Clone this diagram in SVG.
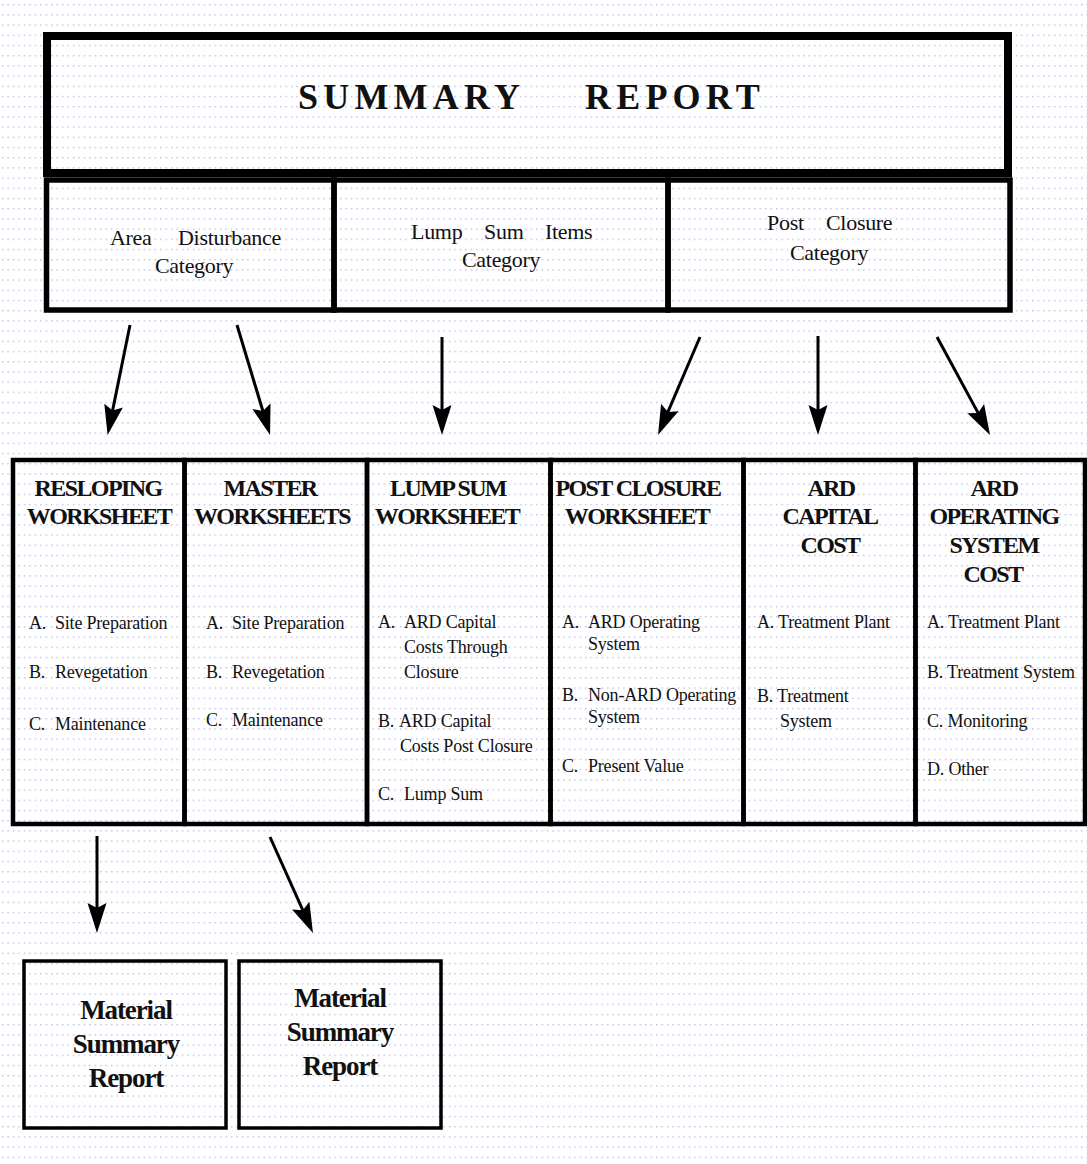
<svg xmlns="http://www.w3.org/2000/svg" width="1087" height="1164" viewBox="0 0 1087 1164">
<style>
.box{fill:none;stroke:#000;stroke-linejoin:miter}
.title{font-family:"Liberation Serif","Times New Roman",serif;font-weight:bold;font-size:36px;letter-spacing:5.2px;fill:#111}
.cat{font-family:"Liberation Serif","Times New Roman",serif;font-size:22px;fill:#111;letter-spacing:-0.3px}
.hd{font-family:"Liberation Serif","Times New Roman",serif;font-weight:bold;font-size:24px;letter-spacing:-1.6px;fill:#111;text-anchor:middle}
.it{font-family:"Liberation Serif","Times New Roman",serif;font-size:18px;fill:#111;letter-spacing:-0.2px}
.mat{font-family:"Liberation Serif","Times New Roman",serif;font-weight:bold;font-size:27px;letter-spacing:-1.1px;fill:#111;text-anchor:middle}
.conn{stroke:#000;stroke-width:3;fill:none;marker-end:url(#arr)}
</style>
<defs>
<pattern id="dots" x="2" y="4" width="5.45" height="10.2" patternUnits="userSpaceOnUse">
<rect x="0" y="0" width="1.4" height="1.4" fill="#bcbcf0"/>
</pattern>
<marker id="arr" markerUnits="userSpaceOnUse" viewBox="-11 -11 32 22" markerWidth="32" markerHeight="22" refX="0" refY="0" orient="auto">
<path d="M20,0 L-10,-9.5 L-5,0 L-10,9.5 Z" fill="#000"/>
</marker>
</defs>
<rect width="1087" height="1164" fill="#fff"/>
<rect width="1087" height="1164" fill="url(#dots)"/>

<g id="summary-report">
<rect class="box" x="47" y="36" width="961" height="137" stroke-width="8"/>
<text class="title" y="109"><tspan x="298">SUMMARY</tspan><tspan x="585">REPORT</tspan></text>
</g>

<g id="cat-area">
<rect class="box" x="46.5" y="180" width="287.5" height="130" stroke-width="5.5"/>
<text class="cat" y="245"><tspan x="110">Area</tspan><tspan x="178">Disturbance</tspan></text>
<text class="cat" x="155" y="273">Category</text>
</g>
<g id="cat-lump">
<rect class="box" x="334" y="180" width="334" height="130" stroke-width="5.5"/>
<text class="cat" y="239"><tspan x="411">Lump</tspan><tspan x="484">Sum</tspan><tspan x="545">Items</tspan></text>
<text class="cat" x="462" y="267">Category</text>
</g>
<g id="cat-post">
<rect class="box" x="668" y="180" width="342" height="130" stroke-width="5.5"/>
<text class="cat" y="230"><tspan x="767">Post</tspan><tspan x="826">Closure</tspan></text>
<text class="cat" x="790" y="260">Category</text>
</g>

<g id="connectors">
<line class="conn" x1="130" y1="325" x2="111.6" y2="415.4"/>
<line class="conn" x1="237" y1="325" x2="264.3" y2="415.8"/>
<line class="conn" x1="442" y1="337" x2="442" y2="415"/>
<line class="conn" x1="700" y1="337" x2="665.9" y2="416.6"/>
<line class="conn" x1="818" y1="336" x2="818" y2="415"/>
<line class="conn" x1="937" y1="337" x2="980.5" y2="417.4"/>
<line class="conn" x1="97" y1="836" x2="97" y2="913"/>
<line class="conn" x1="270" y1="837" x2="304.8" y2="914.7"/>
</g>

<g id="ws-resloping">
<rect class="box" x="13" y="460" width="171.5" height="364" stroke-width="4.5"/>
<text class="hd" x="98" y="496">RESLOPING</text>
<text class="hd" x="99" y="524">WORKSHEET</text>
<text class="it" y="629"><tspan x="29">A.</tspan><tspan x="55">Site Preparation</tspan></text>
<text class="it" y="678"><tspan x="29">B.</tspan><tspan x="55">Revegetation</tspan></text>
<text class="it" y="730"><tspan x="29">C.</tspan><tspan x="55">Maintenance</tspan></text>
</g>
<g id="ws-master">
<rect class="box" x="184.5" y="460" width="182.5" height="364" stroke-width="4.5"/>
<text class="hd" x="270" y="496">MASTER</text>
<text class="hd" x="272" y="524">WORKSHEETS</text>
<text class="it" y="629"><tspan x="206">A.</tspan><tspan x="232">Site Preparation</tspan></text>
<text class="it" y="678"><tspan x="206">B.</tspan><tspan x="232">Revegetation</tspan></text>
<text class="it" y="726"><tspan x="206">C.</tspan><tspan x="232">Maintenance</tspan></text>
</g>
<g id="ws-lumpsum">
<rect class="box" x="367" y="460" width="183.5" height="364" stroke-width="4.5"/>
<text class="hd" x="448" y="496">LUMP SUM</text>
<text class="hd" x="447" y="524">WORKSHEET</text>
<text class="it" y="628"><tspan x="378">A.</tspan><tspan x="404">ARD Capital</tspan></text>
<text class="it" x="404" y="653">Costs Through</text>
<text class="it" x="404" y="678">Closure</text>
<text class="it" y="727"><tspan x="378">B.</tspan><tspan x="399">ARD Capital</tspan></text>
<text class="it" x="400" y="752">Costs Post Closure</text>
<text class="it" y="800"><tspan x="378">C.</tspan><tspan x="404">Lump Sum</tspan></text>
</g>
<g id="ws-postclosure">
<rect class="box" x="550.5" y="460" width="193" height="364" stroke-width="4.5"/>
<text class="hd" x="638" y="496">POST CLOSURE</text>
<text class="hd" x="637" y="524">WORKSHEET</text>
<text class="it" y="628"><tspan x="562">A.</tspan><tspan x="588">ARD Operating</tspan></text>
<text class="it" x="588" y="650">System</text>
<text class="it" y="701"><tspan x="562">B.</tspan><tspan x="588">Non-ARD Operating</tspan></text>
<text class="it" x="588" y="723">System</text>
<text class="it" y="772"><tspan x="562">C.</tspan><tspan x="588">Present Value</tspan></text>
</g>
<g id="ws-ardcapital">
<rect class="box" x="743.5" y="460" width="172" height="364" stroke-width="4.5"/>
<text class="hd" x="831" y="496">ARD</text>
<text class="hd" x="830" y="524">CAPITAL</text>
<text class="hd" x="830" y="553">COST</text>
<text class="it" x="757" y="628">A. Treatment Plant</text>
<text class="it" x="757" y="702">B. Treatment</text>
<text class="it" x="780" y="727">System</text>
</g>
<g id="ws-ardoperating">
<rect class="box" x="915.5" y="460" width="169.5" height="364" stroke-width="4.5"/>
<text class="hd" x="994" y="496">ARD</text>
<text class="hd" x="994" y="524">OPERATING</text>
<text class="hd" x="994" y="553">SYSTEM</text>
<text class="hd" x="993" y="582">COST</text>
<text class="it" x="927" y="628">A. Treatment Plant</text>
<text class="it" x="927" y="678">B. Treatment System</text>
<text class="it" x="927" y="727">C. Monitoring</text>
<text class="it" x="927" y="775">D. Other</text>
</g>

<g id="material-1">
<rect class="box" x="24" y="961" width="202" height="167" stroke-width="3.5"/>
<text class="mat" x="126" y="1019">Material</text>
<text class="mat" x="126" y="1053">Summary</text>
<text class="mat" x="126" y="1087">Report</text>
</g>
<g id="material-2">
<rect class="box" x="239" y="961" width="202" height="167" stroke-width="3.5"/>
<text class="mat" x="340" y="1007">Material</text>
<text class="mat" x="340" y="1041">Summary</text>
<text class="mat" x="340" y="1075">Report</text>
</g>
</svg>
